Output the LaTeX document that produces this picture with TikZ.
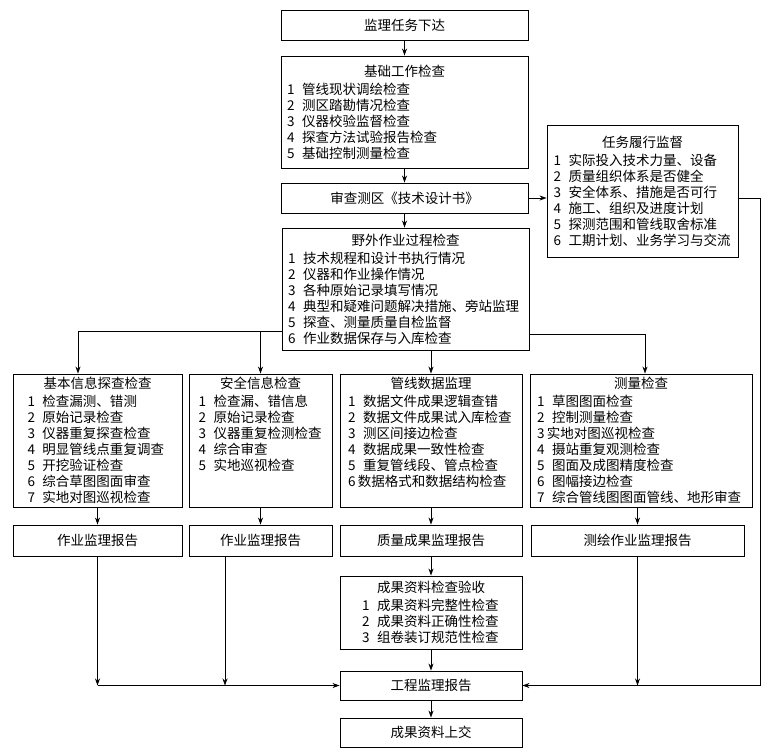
\documentclass[tikz,border=0pt]{standalone}
\usepackage{fontspec}
\setmainfont{Noto Sans CJK SC}
\usetikzlibrary{arrows.meta}
\newcommand{\boxhead}[1]{\makebox[\linewidth]{#1}\\[2pt]}
\newcommand{\nr}[1]{\makebox[15pt][l]{#1}}
\newcommand{\nrt}[1]{\makebox[10pt][l]{#1}}

\begin{document}
\begin{tikzpicture}[x=1pt,y=-1pt,line width=0.8pt,
	box/.style={draw,line width=0.9pt,inner sep=0pt,font=\fontsize{13.5}{16}\selectfont},
	>={Stealth[length=7pt,width=5pt]}]
	\useasboundingbox (0,0) rectangle (778,754);

	%main column
	\node[box,minimum width=247,minimum height=30] (xiada) at (404.5,25) {监理任务下达};
	\node[box,minimum width=247,minimum height=112] (jichu) at (404.5,112) {\parbox{235pt}{\boxhead{基础工作检查}%
		\nr{1}管线现状调绘检查\\
		\nr{2}测区踏勘情况检查\\
		\nr{3}仪器校验监督检查\\
		\nr{4}探查方法试验报告检查\\
		\nr{5}基础控制测量检查}};
	\node[box,minimum width=247,minimum height=30] (shencha) at (404.5,198) {审查测区《技术设计书》};
	\node[box,minimum width=191,minimum height=132] (renwu) at (642.5,191) {\parbox{178pt}{\boxhead{任务履行监督}%
		\nr{1}实际投入技术力量、设备\\
		\nr{2}质量组织体系是否健全\\
		\nr{3}安全体系、措施是否可行\\
		\nr{4}施工、组织及进度计划\\
		\nr{5}探测范围和管线取舍标准\\
		\nr{6}工期计划、业务学习与交流}};
	\node[box,minimum width=247,minimum height=122] (yewai) at (405.5,289) {\parbox{235pt}{\boxhead{野外作业过程检查}%
		\nr{1}技术规程和设计书执行情况\\
		\nr{2}仪器和作业操作情况\\
		\nr{3}各种原始记录填写情况\\
		\nr{4}典型和疑难问题解决措施、旁站监理\\
		\nr{5}探查、测量质量自检监督\\
		\nr{6}作业数据保存与入库检查}};

	%checks
	\node[box,minimum width=169,minimum height=133] (jiben) at (97.5,440.5) {\parbox[c][127pt][t]{140pt}{\boxhead{基本信息探查检查}%
		\nr{1}检查漏测、错测\\
		\nr{2}原始记录检查\\
		\nr{3}仪器重复探查检查\\
		\nr{4}明显管线点重复调查\\
		\nr{5}开挖验证检查\\
		\nr{6}综合草图图面审查\\
		\nr{7}实地对图巡视检查}};
	\node[box,minimum width=143,minimum height=133] (anquan) at (260.5,440.5) {\parbox[c][127pt][t]{124pt}{\boxhead{安全信息检查}%
		\nr{1}检查漏、错信息\\
		\nr{2}原始记录检查\\
		\nr{3}仪器重复检测检查\\
		\nr{4}综合审查\\
		\nr{5}实地巡视检查}};
	\node[box,minimum width=182,minimum height=133] (guanxian) at (431,440.5) {\parbox[c][127pt][t]{166pt}{\boxhead{管线数据监理}%
		\nr{1}数据文件成果逻辑查错\\
		\nr{2}数据文件成果试入库检查\\
		\nr{3}测区间接边检查\\
		\nr{4}数据成果一致性检查\\
		\nr{5}重复管线段、管点检查\\
		\nrt{6}数据格式和数据结构检查}};
	\node[box,minimum width=222,minimum height=133] (celiang) at (641,440.5) {\parbox[c][127pt][t]{208pt}{\boxhead{测量检查}%
		\nr{1}草图图面检查\\
		\nr{2}控制测量检查\\
		\nrt{3}实地对图巡视检查\\
		\nr{4}摄站重复观测检查\\
		\nr{5}图面及成图精度检查\\
		\nr{6}图幅接边检查\\
		\nr{7}综合管线图图面管线、地形审查}};

	%reports
	\node[box,minimum width=169,minimum height=31] (bao1) at (97.5,540.5) {作业监理报告};
	\node[box,minimum width=143,minimum height=31] (bao2) at (260.5,540.5) {作业监理报告};
	\node[box,minimum width=182,minimum height=31] (bao3) at (431,540.5) {质量成果监理报告};
	\node[box,minimum width=213,minimum height=31] (bao4) at (637.5,540.5) {测绘作业监理报告};
	\node[box,minimum width=182,minimum height=73] (yanshou) at (431,612.5) {\parbox{138pt}{\boxhead{成果资料检查验收}%
		\nr{1}成果资料完整性检查\\
		\nr{2}成果资料正确性检查\\
		\nr{3}组卷装订规范性检查}};
	\node[box,minimum width=182,minimum height=29] (gongcheng) at (431,685.5) {工程监理报告};
	\node[box,minimum width=182,minimum height=29] (shangjiao) at (431,732.5) {成果资料上交};

	%arrows
	\draw[->] (xiada) -- (jichu);
	\draw[->] (jichu) -- (shencha);
	\draw[->] (shencha.south) -- (shencha.south |- yewai.north);
	\draw[->] (shencha.east) -- (renwu.west |- shencha.east);
	\coordinate (lfork) at ([yshift=-42pt]yewai.west);
	\coordinate (rfork) at ([yshift=-45pt]yewai.east);
	\coordinate (jtop) at ([xshift=-19.5pt]jiben.north);
	\coordinate (ctop) at ([xshift=4pt]celiang.north);
	\draw[->] (lfork) -| (jtop);
	\draw[->] (anquan.north |- lfork) -- (anquan.north);
	\draw[->] (guanxian.north |- yewai.south) -- (guanxian.north);
	\draw[->] (rfork) -| (ctop);
	\draw[->] (jiben) -- (bao1);
	\draw[->] (anquan) -- (bao2);
	\draw[->] (guanxian) -- (bao3);
	\draw[->] (bao4.north |- celiang.south) -- (bao4.north);
	\coordinate (b2) at ([xshift=-35.5pt]bao2.south);
	\draw[->] (bao1.south) -- (bao1.south |- gongcheng.west);
	\draw[->] (b2) -- (b2 |- gongcheng.west);
	\draw[->] (bao1.south |- gongcheng.west) -- (gongcheng.west);
	\draw[->] (bao4.south) -- (bao4.south |- gongcheng.east);
	\draw[->] (renwu.east |- shencha.east) -- ++(22,0) |- (gongcheng.east);
	\draw[->] (bao3) -- (yanshou);
	\draw[->] (yanshou) -- (gongcheng);
	\draw[->] (gongcheng) -- (shangjiao);
\end{tikzpicture}
\end{document}
